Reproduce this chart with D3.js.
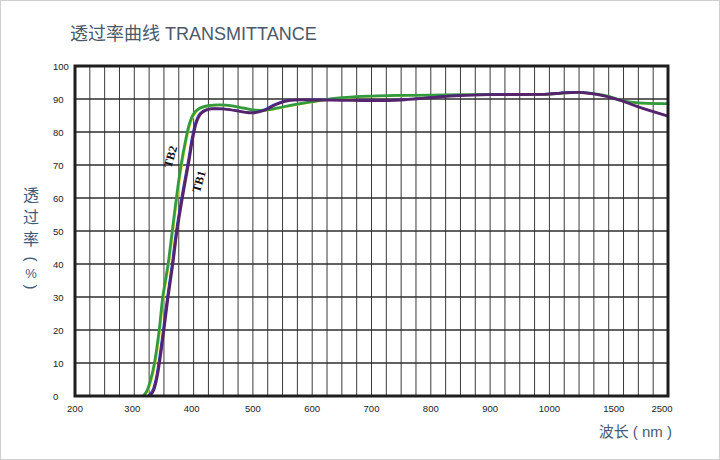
<!DOCTYPE html>
<html>
<head>
<meta charset="utf-8">
<script src="https://cdn.jsdelivr.net/npm/d3@7"></script>
<style>
  body { margin: 0; background: #fff; }
  svg { display: block; }
</style>
</head>
<body>
<div id="chart"></div>
<script>
// Data
const xTicks = [200, 300, 400, 500, 600, 700, 800, 900, 1000, 1500, 2500]
const yTicks = [0, 10, 20, 30, 40, 50, 60, 70, 80, 90, 100]

const tb1Nm = [326, 332, 337, 342, 350, 357, 365, 372, 382, 392, 399, 405, 412, 420, 430, 445, 460, 480, 500, 520, 540, 560, 600, 650, 700, 750, 800, 850, 900, 1000, 1100, 1250, 1400, 1500, 1700, 2000, 2500]
const tb1Val = [0, 1.5, 4.5, 9.5, 20, 30, 40, 50, 61, 71, 78.5, 83, 85.5, 86.5, 87, 87, 86.8, 86.2, 85.8, 86.6, 88.4, 89.5, 89.7, 89.6, 89.5, 89.7, 90.4, 91, 91.3, 91.5, 91.8, 92, 91.4, 90.6, 89.6, 87.6, 84.8]

const tb2Nm = [315, 321, 327, 334, 342, 348, 357, 364, 371, 378, 386, 393, 400, 410, 425, 445, 465, 485, 505, 525, 545, 570, 600, 650, 700, 750, 800, 850, 900, 1000, 1100, 1250, 1400, 1500, 1700, 2000, 2500]
const tb2Val = [0, 1.5, 4.5, 10, 20, 30, 40, 50, 60, 69, 77, 82.5, 85.5, 87.2, 88, 88.2, 87.9, 87.2, 86.6, 86.7, 87.4, 88.3, 89.2, 90.4, 90.9, 91.1, 91.2, 91.3, 91.4, 91.5, 91.8, 92, 91.5, 90.8, 89.6, 88.8, 88.6]

const series = [
  { name: 'TB2', nm: tb2Nm, val: tb2Val, color: '#339a3e', edge: '#e9e33a', dx: 1.3, labelNm: 361, labelVal: 72.5 },
  { name: 'TB1', nm: tb1Nm, val: tb1Val, color: '#55246c', edge: '#2a3ac4', dx: -1.3, labelNm: 409, labelVal: 65 }
]

const W = 720
const H = 460
const plotLeft = 75
const plotRight = 668
const plotTop = 66
const plotBottom = 396
const unit = (plotRight - plotLeft) / 10

const svg = d3.select('#chart').append('svg')
  .attr('width', W)
  .attr('height', H)

// outer frame of the picture
svg.append('rect')
  .attr('x', 0.5).attr('y', 0.5)
  .attr('width', W - 1).attr('height', H - 1)
  .attr('fill', '#fff')
  .attr('stroke', '#cfcfcf')

// Scales (x is broken after 1000 nm)
const x = d3.scaleLinear()
  .domain([200, 1000, 1500, 2500])
  .range([plotLeft, plotLeft + unit * 8, plotLeft + unit * 9, plotRight])
const y = d3.scaleLinear()
  .domain([0, 100])
  .range([plotBottom, plotTop])

// Grid
const minor = d3.range(200, 1000, 25)
  .concat(d3.range(1000, 1500, 125))
  .concat(d3.range(1500, 2500, 250))

svg.append('g')
  .selectAll('line')
  .data(minor)
  .join('line')
  .attr('x1', d => x(d)).attr('x2', d => x(d))
  .attr('y1', plotTop).attr('y2', plotBottom)
  .attr('stroke', '#3a3a3a')
  .attr('stroke-width', 1)

svg.append('g')
  .selectAll('line')
  .data(yTicks)
  .join('line')
  .attr('x1', plotLeft).attr('x2', plotRight)
  .attr('y1', d => y(d)).attr('y2', d => y(d))
  .attr('stroke', '#2e2e2e')
  .attr('stroke-width', 1.3)

// Curves
const line = d3.line()
  .x(d => x(d[0]))
  .y(d => y(d[1]))
  .curve(d3.curveCatmullRom.alpha(0.5))

const curves = svg.append('g')
series.forEach(s => {
  const pts = s.nm.map((n, i) => [n, s.val[i]])
  curves.append('path')
    .datum(pts)
    .attr('d', line)
    .attr('fill', 'none')
    .attr('stroke', s.edge)
    .attr('stroke-width', 1.1)
    .attr('transform', `translate(${s.dx}, ${s.dx * 0.6})`)
  curves.append('path')
    .datum(pts)
    .attr('d', line)
    .attr('fill', 'none')
    .attr('stroke', s.color)
    .attr('stroke-width', 2.8)
})

// Curve names
svg.append('g')
  .selectAll('text')
  .data(series)
  .join('text')
  .attr('transform', d => `translate(${x(d.labelNm)}, ${y(d.labelVal)}) rotate(-74)`)
  .attr('text-anchor', 'middle')
  .attr('dominant-baseline', 'central')
  .style('font-family', '"Liberation Serif", "DejaVu Serif", serif')
  .style('font-weight', 'bold')
  .style('font-size', '12px')
  .attr('fill', '#111')
  .text(d => d.name)

// Plot frame
svg.append('rect')
  .attr('x', plotLeft).attr('y', plotTop)
  .attr('width', plotRight - plotLeft).attr('height', plotBottom - plotTop)
  .attr('fill', 'none')
  .attr('stroke', '#1e1e1e')
  .attr('stroke-width', 3)

// Tick labels
svg.append('g')
  .selectAll('text')
  .data(yTicks)
  .join('text')
  .attr('x', 53)
  .attr('y', d => y(d))
  .attr('dominant-baseline', 'central')
  .style('font-family', '"Liberation Sans", Arial, sans-serif')
  .style('font-size', '9.5px')
  .attr('fill', '#222')
  .text(d => d)

svg.append('g')
  .selectAll('text')
  .data(xTicks)
  .join('text')
  .attr('x', d => x(d) + (d === 1500 ? 5 : d === 2500 ? -6 : d > 200 && d <= 400 ? -2 : 0))
  .attr('y', 408)
  .attr('text-anchor', 'middle')
  .attr('dominant-baseline', 'central')
  .style('font-family', '"Liberation Sans", Arial, sans-serif')
  .style('font-size', '9.5px')
  .attr('fill', '#222')
  .text(d => d)

// Titles
svg.append('text')
  .attr('x', 70)
  .attr('y', 40)
  .style('font-family', '"Liberation Sans", "Noto Sans CJK SC", sans-serif')
  .style('font-size', '18px')
  .attr('fill', '#4a5868')
  .text('透过率曲线 TRANSMITTANCE')

svg.append('text')
  .attr('x', 672)
  .attr('y', 437)
  .attr('text-anchor', 'end')
  .style('font-family', '"Liberation Sans", "Noto Sans CJK SC", sans-serif')
  .style('font-size', '15px')
  .attr('fill', '#4a5a70')
  .text('波长 ( nm )')

// Vertical y title
const yTitle = ['透', '过', '率', '(', '%', ')']
const yPos = [195, 217, 239, 259, 273, 287]
const yt = svg.append('g')
  .style('font-family', '"Liberation Sans", "Noto Sans CJK SC", sans-serif')
  .style('font-size', '16px')
  .attr('fill', '#3f5a7a')
yTitle.forEach((c, i) => {
  const bracket = c === '(' || c === ')'
  yt.append('text')
    .attr('transform', `translate(31, ${yPos[i]})${bracket ? ' rotate(90)' : ''}`)
    .attr('text-anchor', 'middle')
    .attr('dominant-baseline', 'central')
    .style('font-size', c === '%' ? '13px' : bracket ? '15px' : null)
    .text(c)
})
</script>
</body>
</html>
